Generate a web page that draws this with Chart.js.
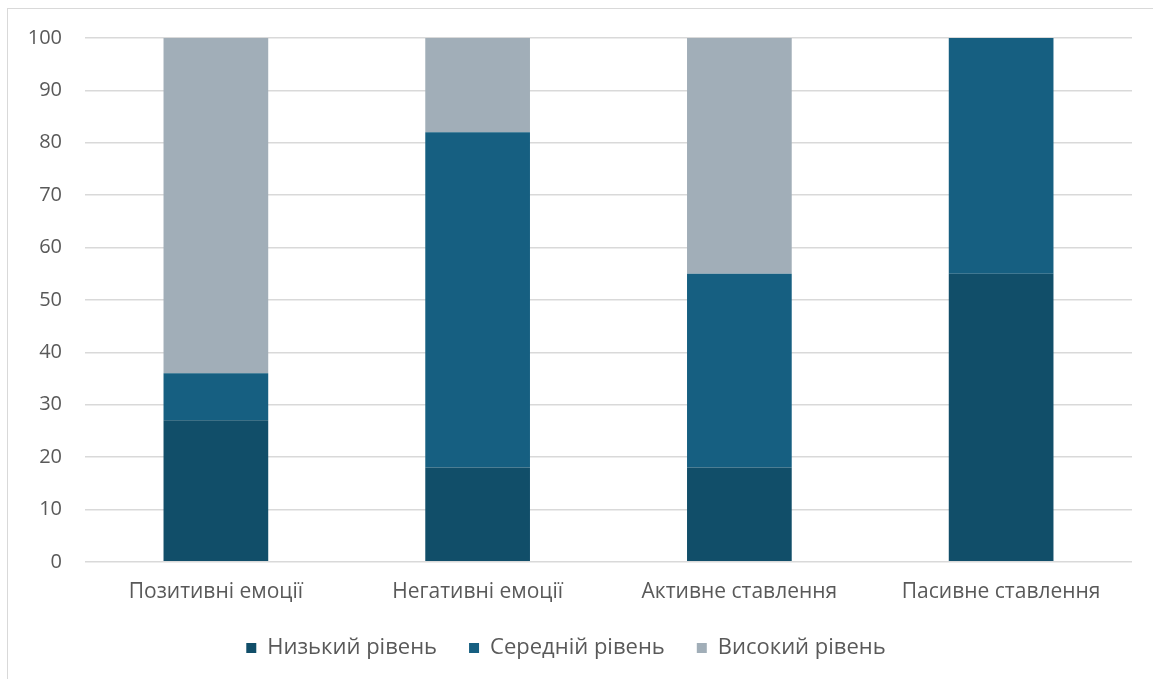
<!DOCTYPE html>
<html>
<head>
<meta charset="utf-8">
<script src="https://cdn.jsdelivr.net/npm/chart.js@4"></script>
<style>
  html, body { margin: 0; padding: 0; background: #fff; }
  #wrap { position: relative; width: 1153px; height: 679px; }
  #frame { position: absolute; left: 7px; top: 8px; width: 1160px; height: 680px; border: 1.5px solid #d9d9d9; box-sizing: border-box; }
  canvas { position: absolute; left: 0; top: 0; }
</style>
</head>
<body>
<div id="wrap">
  <div id="frame"></div>
  <canvas id="chart" width="1153" height="679"></canvas>
</div>
<script>
const categories = ['Позитивні емоції', 'Негативні емоції', 'Активне ставлення', 'Пасивне ставлення'];
const lowLevel = [27, 18, 18, 55];
const midLevel = [9, 64, 37, 45];
const highLevel = [64, 18, 45, 0];
const seriesNames = ['Низький рівень', 'Середній рівень', 'Високий рівень'];
const yTicks = [0, 10, 20, 30, 40, 50, 60, 70, 80, 90, 100];

const textColor = '#595959';
const gridColor = '#d9d9d9';
const fontFamily = 'Open Sans';

const ctx = document.getElementById('chart').getContext('2d');
new Chart(ctx, {
    type: 'bar',
    data: {
        labels: categories,
        datasets: [
            { label: seriesNames[0], data: lowLevel, backgroundColor: '#114E69' },
            { label: seriesNames[1], data: midLevel, backgroundColor: '#165F81' },
            { label: seriesNames[2], data: highLevel, backgroundColor: '#A1AEB8' }
        ]
    },
    options: {
        responsive: false,
        animation: false,
        barPercentage: 0.4,
        categoryPercentage: 1,
        layout: { padding: { top: 38, right: 21, bottom: 10, left: 0 } },
        plugins: {
            legend: {
                position: 'bottom',
                labels: {
                    color: textColor,
                    font: { family: fontFamily, size: 22 },
                    boxWidth: 10,
                    boxHeight: 10,
                    padding: 32
                }
            },
            tooltip: { enabled: false }
        },
        scales: {
            x: {
                stacked: true,
                // grid hidden, tick length only used as the gap under the axis
                grid: { display: false, drawTicks: true, tickLength: 18 },
                border: { display: false },
                ticks: { color: textColor, font: { family: fontFamily, size: 21 }, padding: 0 }
            },
            y: {
                stacked: true,
                min: 0,
                max: 100,
                afterFit: scale => { scale.width = 85; },
                afterBuildTicks: scale => { scale.ticks = yTicks.map(v => ({ value: v })); },
                grid: { color: gridColor, lineWidth: 1.5, drawTicks: false },
                border: { display: false },
                ticks: { color: textColor, font: { family: fontFamily, size: 20 }, padding: 23 }
            }
        }
    }
});
</script>
</body>
</html>
